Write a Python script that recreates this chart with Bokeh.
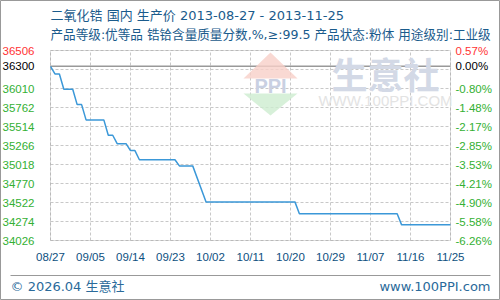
from datetime import datetime, timedelta
from bokeh.plotting import figure
from bokeh.models import (Range1d, FixedTicker, DatetimeTickFormatter, LinearAxis, DatetimeAxis,
                          Grid, Label, PolyAnnotation, BoxAnnotation)
from bokeh.embed import file_html
from bokeh.resources import INLINE

# ---- data ----
dates = ["2013-08-27", "2013-08-28", "2013-08-29", "2013-08-30", "2013-09-01",
         "2013-09-02", "2013-09-03", "2013-09-04", "2013-09-08", "2013-09-09",
         "2013-09-10", "2013-09-11", "2013-09-13", "2013-09-14", "2013-09-15",
         "2013-09-16", "2013-09-24", "2013-09-25", "2013-09-28", "2013-10-01",
         "2013-10-21", "2013-10-22", "2013-11-13", "2013-11-14", "2013-11-25"]
prices = [36300, 36200, 36200, 36000, 36000,
          35800, 35800, 35600, 35600, 35400,
          35400, 35290, 35290, 35200, 35200,
          35080, 35080, 35000, 35000, 34530,
          34530, 34375, 34375, 34230, 34230]
base_price = 36300
y_min, y_max = 34026, 36506
y_step = 248
x_tick_labels = ["08/27", "09/05", "09/14", "09/23", "10/02", "10/11",
                 "10/20", "10/29", "11/07", "11/16", "11/25"]
title_text = "二氧化锆 国内 生产价 2013-08-27 - 2013-11-25"
subtitle_text = "产品等级:优等品 锆铪含量质量分数,%,≥:99.5 产品状态:粉体 用途级别:工业级"
footer_left = "© 2026.04 生意社"
footer_right = "www.100PPI.com"

# ---- derived ----
epoch = datetime(1970, 1, 1)
def ms(d):
    return (d - epoch).total_seconds() * 1000

xs = [datetime.strptime(d, "%Y-%m-%d") for d in dates]
x_start = datetime(2013, 8, 27)
x_end = datetime(2013, 11, 25)
tick_ms = [ms(datetime(2013, int(t[:2]), int(t[3:]))) for t in x_tick_labels]
green_ticks = [y_min + y_step * k for k in range(9)]
grid_ticks = [y_min + y_step * k for k in range(11)]

def pct(v):
    return "%.2f%%" % ((v - base_price) / base_price * 100)

# layout: plot box 50..450 px wide, 50..240 px tall inside a 500x300 canvas
W, H = 500, 300
BOX_L, BOX_R, BOX_T, BOX_B = 50, 450, 50, 240
days = (x_end - x_start).days
px_per_day = (BOX_R - BOX_L) / days
units_per_px = (y_max - y_min) / (BOX_B - BOX_T)
x_range = Range1d(x_start - timedelta(days=BOX_L / px_per_day),
                  x_end + timedelta(days=(W - BOX_R) / px_per_day))
y_range = Range1d(y_min - (H - BOX_B) * units_per_px, y_max + BOX_T * units_per_px)

FONT = "Liberation Sans"
MIX = "'DejaVu Sans', 'Noto Sans CJK SC'"
CJK = "Noto Sans CJK SC"
BLUE_TXT = "#1a5b8c"
GREEN = "#33b033"
RED = "#ff3333"
GRAY = "#999999"

p = figure(width=W, height=H, output_backend="svg", toolbar_location=None,
           x_axis_location=None, y_axis_location=None,
           x_range=x_range, y_range=y_range, min_border=0)
p.background_fill_color = "white"
p.border_fill_color = "white"
p.outline_line_color = GRAY
p.outline_line_width = 1
p.grid.visible = False

# ---- grids limited to the plot box ----
xg = Grid(dimension=0, ticker=FixedTicker(ticks=tick_ms))
yg = Grid(dimension=1, ticker=FixedTicker(ticks=grid_ticks))
for g, cb in ((xg, (y_min, y_max)), (yg, (ms(x_start), ms(x_end)))):
    g.grid_line_color = "#c8c8c8"
    g.grid_line_dash = "3 2"
    g.grid_line_width = 1
    g.cross_bounds = cb
    p.add_layout(g)

# ---- plot box and base line ----
p.add_layout(BoxAnnotation(left=x_start, right=x_end, bottom=y_min, top=y_max,
                           fill_alpha=0, line_color=GRAY, line_width=1))
p.segment(x0=[x_start], x1=[x_end], y0=[base_price], y1=[base_price],
          line_color=GRAY, line_width=1.5)

# ---- axes fixed at the box edges ----
def style_axis(ax, color, standoff):
    ax.axis_line_color = None
    ax.major_tick_line_color = None
    ax.minor_tick_line_color = None
    ax.major_tick_out = 0
    ax.major_tick_in = 0
    ax.minor_tick_out = 0
    ax.minor_tick_in = 0
    ax.major_label_text_font = FONT
    ax.major_label_text_font_size = "11.5px"
    ax.major_label_text_color = color
    ax.major_label_standoff = standoff

xa = DatetimeAxis(ticker=FixedTicker(ticks=tick_ms), fixed_location=y_min,
                  formatter=DatetimeTickFormatter(days="%m/%d", months="%m/%d", years="%m/%d"))
style_axis(xa, "#0d4f80", 10)
p.add_layout(xa, "below")

for ticks, color in ((green_ticks, GREEN), ([base_price], "#000000"), ([y_max], RED)):
    la = LinearAxis(ticker=FixedTicker(ticks=ticks), fixed_location=ms(x_start))
    la.major_label_overrides = {t: str(t) for t in ticks}
    style_axis(la, color, 16)
    p.add_layout(la, "left")
    ra = LinearAxis(ticker=FixedTicker(ticks=ticks), fixed_location=ms(x_end))
    ra.major_label_overrides = {t: ("0.00%" if t == base_price else pct(t)) for t in ticks}
    style_axis(ra, color, 5)
    p.add_layout(ra, "right")

# ---- watermark ----
p.add_layout(PolyAnnotation(xs=[270, 297, 243], ys=[52, 78, 78], xs_units="canvas", ys_units="canvas",
                            fill_color="#f7cfc8", fill_alpha=0.8, line_color=None))
p.add_layout(PolyAnnotation(xs=[243, 297, 270], ys=[93, 93, 115], xs_units="canvas", ys_units="canvas",
                            fill_color="#cdeccf", fill_alpha=0.8, line_color=None))
p.add_layout(Label(x=270, y=85, x_units="canvas", y_units="canvas", text="PPI", text_align="center",
                   text_baseline="middle", text_color="#c9d0e2", text_font=FONT,
                   text_font_style="bold", text_font_size="20px"))
p.add_layout(Label(x=385, y=72, x_units="canvas", y_units="canvas", text="生意社", text_align="center",
                   text_baseline="middle", text_color="#d3d9e6", text_font=CJK,
                   text_font_style="bold", text_font_size="36px"))
p.add_layout(Label(x=385, y=100, x_units="canvas", y_units="canvas", text="WWW.100PPI.COM",
                   text_align="center", text_baseline="middle", text_color="#e3e3e3",
                   text_font=FONT, text_font_size="15px"))

# ---- data line ----
p.line(xs, prices, line_color="#3b98d8", line_width=1.5)

# ---- titles and footer ----
p.add_layout(Label(x=50, y=15, x_units="canvas", y_units="canvas", text=title_text,
                   text_baseline="middle", text_color=BLUE_TXT, text_font=MIX, text_font_size="13px"))
p.add_layout(Label(x=50, y=34, x_units="canvas", y_units="canvas", text=subtitle_text,
                   text_baseline="middle", text_color=BLUE_TXT, text_font=MIX, text_font_size="12.6px"))
p.add_layout(Label(x=10, y=286, x_units="canvas", y_units="canvas", text=footer_left,
                   text_baseline="middle", text_color="#2a6a9a", text_font=MIX, text_font_size="13px"))
p.add_layout(Label(x=490, y=286, x_units="canvas", y_units="canvas", text=footer_right,
                   text_align="right", text_baseline="middle", text_color="#2a6a9a",
                   text_font=MIX, text_font_size="13px"))
p.add_layout(BoxAnnotation(left=10, right=490, top=274.5, bottom=275.5, left_units="canvas",
                           right_units="canvas", top_units="canvas", bottom_units="canvas",
                           fill_color=GRAY, fill_alpha=1, line_color=None))

open("out.html", "w").write(file_html(p, INLINE))
